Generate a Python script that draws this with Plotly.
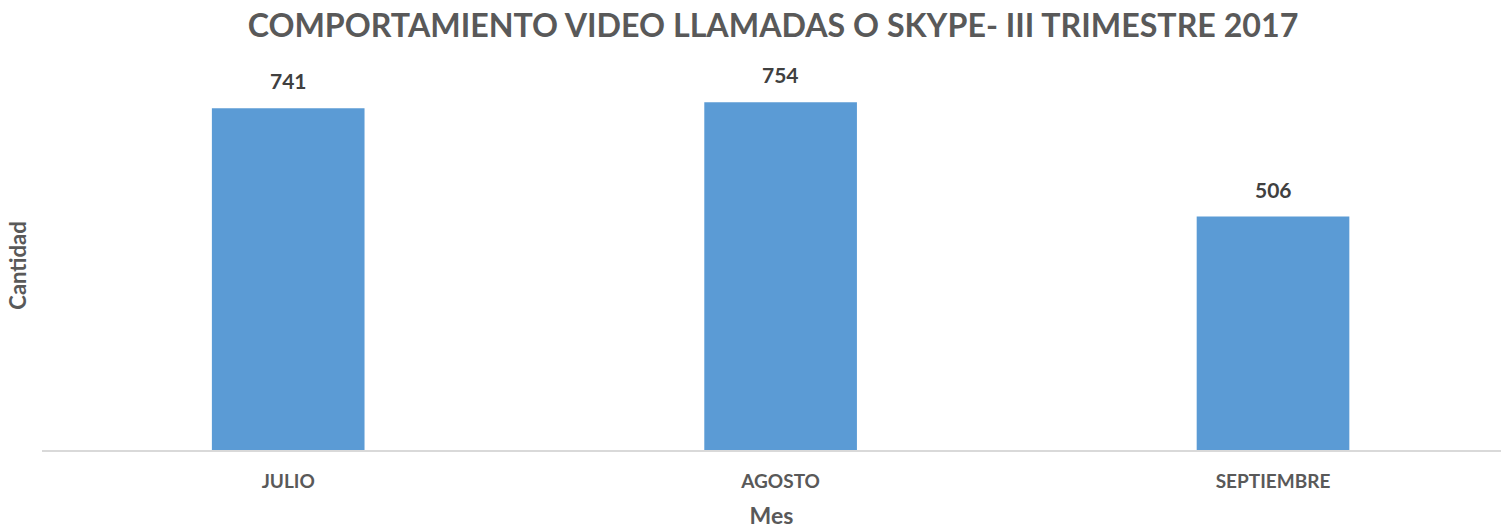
import plotly.graph_objects as go

meses = ["JULIO", "AGOSTO", "SEPTIEMBRE"]
cantidad = [741, 754, 506]
titulo = "COMPORTAMIENTO VIDEO LLAMADAS O SKYPE- III TRIMESTRE 2017"

FONT = "Lato, 'Open Sans', sans-serif"

fig = go.Figure(go.Bar(
    x=meses, y=cantidad, marker_color="#5B9BD5", width=0.31,
    marker_line_width=0,
))

for m, v in zip(meses, cantidad):
    fig.add_annotation(x=m, y=v, text=f"<b>{v}</b>", showarrow=False,
                       yanchor="bottom", yshift=13,
                       font=dict(family=FONT, size=21, color="#404040"))

fig.update_layout(
    width=1501, height=530,
    margin=dict(l=42, r=0, t=81, b=80),
    paper_bgcolor="white", plot_bgcolor="white",
    showlegend=False,
    title=dict(text=f"<b>{titulo}</b>", x=0.515, xanchor="center", y=0.952, yanchor="middle",
               font=dict(family=FONT, size=32.2, color="#595959")),
    xaxis=dict(type="category", range=[-0.5, 2.463], showgrid=False,
               showline=True, linecolor="#D9D9D9", linewidth=2,
               ticks="", tickfont=dict(family=FONT, size=19, color="#595959"),
               ticklabelstandoff=13,
               title=dict(text="<b>Mes</b>", standoff=17,
                          font=dict(family=FONT, size=23, color="#595959"))),
    yaxis=dict(range=[0, 800], showgrid=False, showticklabels=False,
               zeroline=False, showline=False, ticks="",
               title=dict(text="<b>Cantidad</b>", standoff=8,
                          font=dict(family=FONT, size=22, color="#595959"))),
)
fig.update_xaxes(tickprefix="<b>", ticksuffix="</b>")

fig.write_html("out.html")
